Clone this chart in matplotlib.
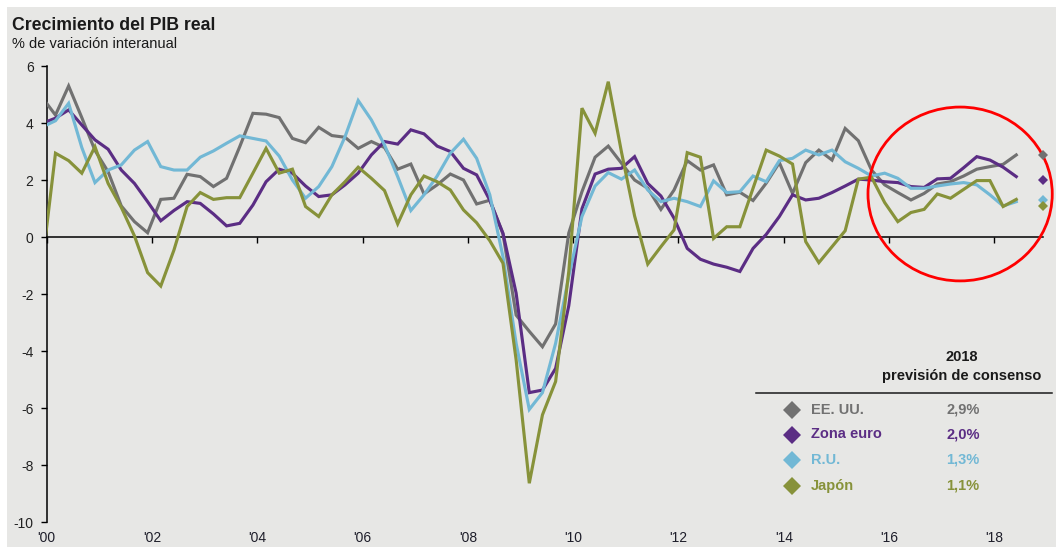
import matplotlib
matplotlib.use("Agg")
import matplotlib.pyplot as plt
import numpy as np
import pandas as pd
from matplotlib.patches import Ellipse, Rectangle
from matplotlib.lines import Line2D

plt.rcParams['font.family'] = ['Liberation Sans', 'DejaVu Sans']

# ---------------- data ----------------
quarters = pd.period_range('1999Q4', '2018Q2', freq='Q')

us = [4.9,
      4.29, 5.31, 4.2, 3.05, 2.3, 1.1, 0.55, 0.16, 1.33, 1.37, 2.21, 2.13, 1.78, 2.07, 3.18, 4.35,
      4.32, 4.2, 3.47, 3.32, 3.86, 3.57, 3.51, 3.12, 3.36, 3.15, 2.39, 2.57, 1.52, 1.84, 2.22, 2.01,
      1.17, 1.30, 0.12, -2.73, -3.3, -3.84, -3.04, 0.15, 1.6, 2.81, 3.2, 2.6, 2.01, 1.72, 0.98, 1.66,
      2.69, 2.36, 2.54, 1.49, 1.58, 1.29, 1.9, 2.62, 1.54, 2.62, 3.06, 2.71, 3.82, 3.39, 2.36, 1.84,
      1.57, 1.31, 1.54, 1.87, 1.95, 2.15, 2.39, 2.48, 2.56, 2.89]
euro = [4.0,
        4.18, 4.47, 3.94, 3.42, 3.09, 2.36, 1.89, 1.25, 0.58, 0.94, 1.25, 1.19, 0.82, 0.40, 0.49, 1.13,
        1.95, 2.39, 2.25, 1.80, 1.43, 1.49, 1.84, 2.25, 2.89, 3.36, 3.27, 3.77, 3.63, 3.20, 3.01, 2.42,
        2.19, 1.30, 0.14, -1.96, -5.45, -5.36, -4.6, -2.4, 1.0, 2.22, 2.39, 2.42, 2.83, 1.89, 1.45, 0.67,
        -0.39, -0.77, -0.94, -1.05, -1.2, -0.39, 0.1, 0.73, 1.49, 1.31, 1.37, 1.57, 1.80, 2.04, 2.01, 1.95,
        1.92, 1.78, 1.75, 2.05, 2.07, 2.44, 2.83, 2.71, 2.46, 2.13]
uk = [3.87,
      4.09, 4.70, 3.15, 1.92, 2.36, 2.54, 3.06, 3.36, 2.48, 2.36, 2.36, 2.81, 3.03, 3.30, 3.56, 3.47,
      3.38, 2.85, 2.01, 1.37, 1.78, 2.48, 3.53, 4.80, 4.12, 3.24, 2.13, 0.94, 1.49, 2.15, 2.95, 3.44,
      2.77, 1.49, -0.68, -3.72, -6.04, -5.45, -3.72, -1.38, 0.73, 1.80, 2.27, 2.04, 2.36, 1.66, 1.25, 1.37,
      1.25, 1.08, 1.98, 1.57, 1.60, 2.15, 1.95, 2.69, 2.77, 3.06, 2.89, 3.06, 2.65, 2.42, 2.15, 2.25,
      2.07, 1.72, 1.72, 1.80, 1.87, 1.92, 1.84, 1.49, 1.10, 1.25]
japan = [-0.92,
         2.95, 2.69, 2.25, 3.18, 1.89, 1.05, 0.05, -1.24, -1.71, -0.45, 1.08, 1.57, 1.33, 1.39, 1.39, 2.25,
         3.12, 2.25, 2.39, 1.08, 0.73, 1.49, 1.95, 2.46, 2.07, 1.64, 0.47, 1.49, 2.15, 1.95, 1.66, 0.96,
         0.51, -0.12, -0.91, -4.3, -8.63, -6.23, -5.06, -1.2, 4.53, 3.65, 5.46, 3.0, 0.75, -0.94, -0.33, 0.26,
         2.97, 2.81, -0.04, 0.37, 0.37, 1.72, 3.06, 2.85, 2.57, -0.15, -0.89, -0.33, 0.23, 2.04, 2.11, 1.22,
         0.55, 0.87, 0.98, 1.52, 1.37, 1.68, 1.99, 1.99, 1.08, 1.33]

names = ['EE. UU.', 'Zona euro', 'R.U.', 'Japón']
forecast_2018 = [2.9, 2.0, 1.3, 1.1]
forecast_labels = ['2,9%', '2,0%', '1,3%', '1,1%']
tick_years = [2000, 2002, 2004, 2006, 2008, 2010, 2012, 2014, 2016, 2018]
tick_labels = ["'00", "'02", "'04", "'06", "'08", "'10", "'12", "'14", "'16", "'18"]
y_ticks = [6, 4, 2, 0, -2, -4, -6, -8, -10]

colors = ['#717171', '#5b2d84', '#72b8d5', '#87923a']

# x position: quarter dated at its last month (Jan 2000 = 2000.0)
x = np.array([q.year + (q.end_time.month - 1) / 12 for q in quarters])

# ---------------- figure ----------------
W, H = 1056, 547
fig = plt.figure(figsize=(W / 100, H / 100), dpi=100, facecolor='white')
fig.patches.append(Rectangle((7 / W, 0), 1 - 7 / W, 1 - 7 / H, transform=fig.transFigure,
                             facecolor='#e7e7e5', edgecolor='none', zorder=-10))

def fx(px):
    return px / W

def fy(py):
    return 1 - py / H

ax = fig.add_axes([fx(46.7), fy(522.3), fx(1043.3) - fx(46.7), fy(66.3) - fy(522.3)])
ax.set_facecolor('none')

series = [us, euro, uk, japan]
order = [0, 2, 1, 3]
for i in order:
    ax.plot(x, series[i], color=colors[i], lw=2.25, solid_joinstyle='miter', zorder=3 + i * 0.1)

ax.set_xlim(2000, 2018.93)
ax.set_ylim(-10, 6)

for s in ['top', 'right']:
    ax.spines[s].set_visible(False)
ax.spines['bottom'].set_position(('data', 0))
ax.spines['bottom'].set_linewidth(1.1)
ax.spines['left'].set_linewidth(1.1)
ax.set_xticks(tick_years)
ax.tick_params(axis='x', direction='out', length=4, width=1, labelbottom=False)
ax.set_yticks(y_ticks)
ax.set_yticklabels([str(v) for v in y_ticks])
ax.tick_params(axis='y', direction='out', length=4.5, width=1, pad=5, labelsize=10,
               labelcolor='#222222')

sec = ax.secondary_xaxis('bottom')
sec.set_xticks(tick_years)
sec.set_xticklabels(tick_labels)
sec.tick_params(length=0, pad=6, labelsize=10, labelcolor='#1e1e2a')
sec.spines['bottom'].set_visible(False)

# 2018 forecast diamonds at the end of the axis
x_fc = 2018 + 11 / 12
for i in range(4):
    ax.plot([x_fc], [forecast_2018[i]], marker='D', ms=5.5, mew=0, color=colors[i],
            linestyle='none', clip_on=False, zorder=10)

# red ellipse highlight
ax.add_patch(Ellipse((2017.35, 1.52), 3.5, 6.1, fill=False, edgecolor='#ff0000', lw=2.0,
                     clip_on=False, zorder=6))

# titles
fig.text(fx(12.5), fy(29.5), 'Crecimiento del PIB real', fontsize=12.7, fontweight='bold',
         color='#1a1a1a', va='baseline', ha='left')
fig.text(fx(12.5), fy(47.5), '% de variación interanual', fontsize=10.5,
         color='#1a1a1a', va='baseline', ha='left')

# forecast table
fig.text(fx(962), fy(357), '2018', fontsize=10.5, fontweight='bold', color='#1a1a1a',
         ha='center', va='center')
fig.text(fx(962), fy(376), 'previsión de consenso', fontsize=10.5, fontweight='bold',
         color='#1a1a1a', ha='center', va='center')
fig.add_artist(Line2D([fx(756), fx(1052)], [fy(393.3), fy(393.3)], color='#1a1a1a', lw=1.1,
                      transform=fig.transFigure))
row_y = [409.5, 434.5, 460, 486]
for i in range(4):
    fig.add_artist(Line2D([fx(791.7)], [fy(row_y[i])], marker='D', ms=9, mew=0,
                          color=colors[i], transform=fig.transFigure))
    fig.text(fx(811), fy(row_y[i]), names[i], fontsize=10.5, fontweight='bold', color=colors[i],
             ha='left', va='center')
    fig.text(fx(963), fy(row_y[i]), forecast_labels[i], fontsize=10.5, fontweight='bold',
             color=colors[i], ha='center', va='center')

fig.savefig('out.png', dpi=100, facecolor=fig.get_facecolor())
